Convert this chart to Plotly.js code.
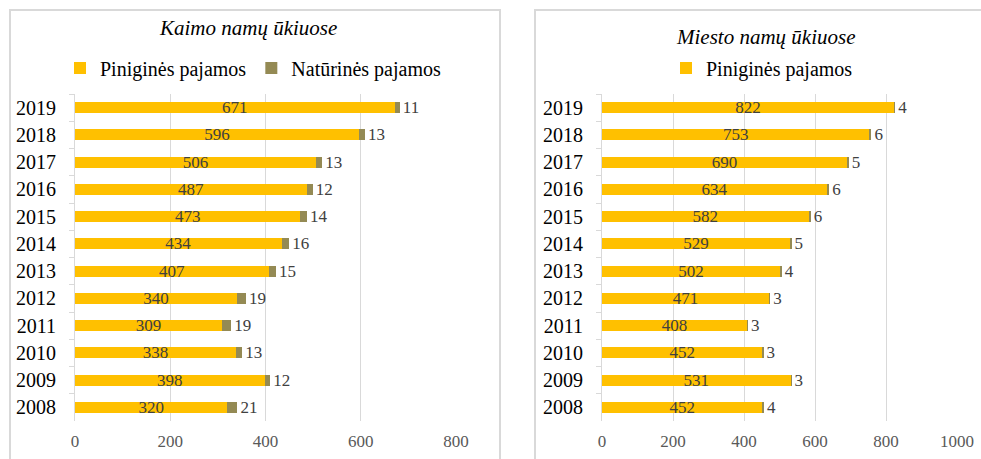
<!DOCTYPE html>
<html>
<head>
<meta charset="utf-8">
<script src="https://cdn.plot.ly/plotly-3.0.1.min.js"></script>
<style>
html,body{margin:0;padding:0;background:#fff;}
#chart{width:981px;height:459px;}
</style>
</head>
<body>
<div id="chart"></div>
<script>
const years = ['2019','2018','2017','2016','2015','2014','2013','2012','2011','2010','2009','2008'];
const ruralMoney = [671,596,506,487,473,434,407,340,309,338,398,320];
const ruralNatural = [11,13,13,12,14,16,15,19,19,13,12,21];
const urbanMoney = [822,753,690,634,582,529,502,471,408,452,531,452];
const urbanNatural = [4,6,5,6,6,5,4,3,3,3,3,4];
const titleLeft = 'Kaimo namų ūkiuose';
const titleRight = 'Miesto namų ūkiuose';
const nameMoney = 'Piniginės pajamos';
const nameNatural = 'Natūrinės pajamos';

const W = 981, H = 459;
const px = v => v / W;
const py = v => 1 - v / H;
const FONT = 'Liberation Serif, Times New Roman, serif';
const YELLOW = '#FFC000';
const OLIVE = '#948A54';
const GRID = '#d9d9d9';

function moneyTrace(vals, xa, ya, lg) {
  return {
    type: 'bar', orientation: 'h', y: years, x: vals, name: nameMoney,
    xaxis: xa, yaxis: ya, legend: lg,
    marker: {color: YELLOW},
    text: vals.map(String), textposition: 'inside', insidetextanchor: 'middle',
    constraintext: 'none',
    textfont: {family: FONT, size: 17, color: '#404040'},
    hoverinfo: 'skip', cliponaxis: false
  };
}
function naturalTrace(vals, xa, ya, lg, show) {
  return {
    type: 'bar', orientation: 'h', y: years, x: vals, name: nameNatural,
    xaxis: xa, yaxis: ya, legend: lg, showlegend: show,
    marker: {color: OLIVE},
    text: vals.map(String), textposition: 'outside',
    constraintext: 'none',
    outsidetextfont: {family: FONT, size: 17, color: '#404040'},
    textfont: {family: FONT, size: 17, color: '#404040'},
    hoverinfo: 'skip', cliponaxis: false
  };
}

const data = [
  moneyTrace(ruralMoney, 'x', 'y', 'legend'),
  naturalTrace(ruralNatural, 'x', 'y', 'legend', true),
  moneyTrace(urbanMoney, 'x2', 'y2', 'legend2'),
  naturalTrace(urbanNatural, 'x2', 'y2', 'legend2', false)
];

const xBase = {
  showgrid: true, gridcolor: GRID, gridwidth: 1, zeroline: false, showline: false,
  ticks: '', tickfont: {family: FONT, size: 17, color: '#595959'},
  ticklabelstandoff: 8, fixedrange: true
};
const yBase = {
  type: 'category', autorange: 'reversed', showgrid: false, zeroline: false,
  showline: true, linecolor: GRID, linewidth: 1,
  ticks: 'outside', tickson: 'boundaries', ticklen: 5, tickcolor: GRID,
  tickfont: {family: FONT, size: 20, color: '#000000'},
  ticklabelstandoff: 14, fixedrange: true
};

const layout = {
  width: W, height: H,
  margin: {l: 0, r: 0, t: 0, b: 0},
  paper_bgcolor: '#ffffff', plot_bgcolor: '#ffffff',
  barmode: 'stack', bargap: 0.6,
  font: {family: FONT},
  xaxis: Object.assign({}, xBase, {domain: [px(75), px(456)], range: [0, 800], dtick: 200, anchor: 'y'}),
  yaxis: Object.assign({}, yBase, {domain: [py(421), py(94)], anchor: 'x'}),
  xaxis2: Object.assign({}, xBase, {domain: [px(602), px(957)], range: [0, 1000], dtick: 200, anchor: 'y2'}),
  yaxis2: Object.assign({}, yBase, {domain: [py(421), py(94)], anchor: 'x2'}),
  legend: {
    orientation: 'h', x: px(253), xanchor: 'center', y: py(68), yanchor: 'middle',
    font: {family: FONT, size: 20, color: '#000'}, bgcolor: 'rgba(0,0,0,0)',
    itemwidth: 30, traceorder: 'normal'
  },
  legend2: {
    orientation: 'h', x: px(762), xanchor: 'center', y: py(68), yanchor: 'middle',
    font: {family: FONT, size: 20, color: '#000'}, bgcolor: 'rgba(0,0,0,0)',
    itemwidth: 30
  },
  annotations: [
    {text: titleLeft, xref: 'paper', yref: 'paper', x: px(248), y: py(28),
     xanchor: 'center', yanchor: 'middle', showarrow: false,
     font: {family: FONT, size: 21, color: '#000', style: 'italic'}},
    {text: titleRight, xref: 'paper', yref: 'paper', x: px(765), y: py(37),
     xanchor: 'center', yanchor: 'middle', showarrow: false,
     font: {family: FONT, size: 21, color: '#000', style: 'italic'}}
  ],
  shapes: [
    {type: 'path', xref: 'paper', yref: 'paper', layer: 'below',
     path: 'M ' + px(10) + ',' + py(470) + ' L ' + px(10) + ',' + py(10) + ' L ' + px(500) + ',' + py(10) + ' L ' + px(500) + ',' + py(470),
     line: {color: GRID, width: 2}},
    {type: 'path', xref: 'paper', yref: 'paper', layer: 'below',
     path: 'M ' + px(535) + ',' + py(470) + ' L ' + px(535) + ',' + py(10) + ' L ' + px(990) + ',' + py(10),
     line: {color: GRID, width: 2}}
  ]
};

Plotly.newPlot('chart', data, layout, {displayModeBar: false, staticPlot: true});
</script>
</body>
</html>
